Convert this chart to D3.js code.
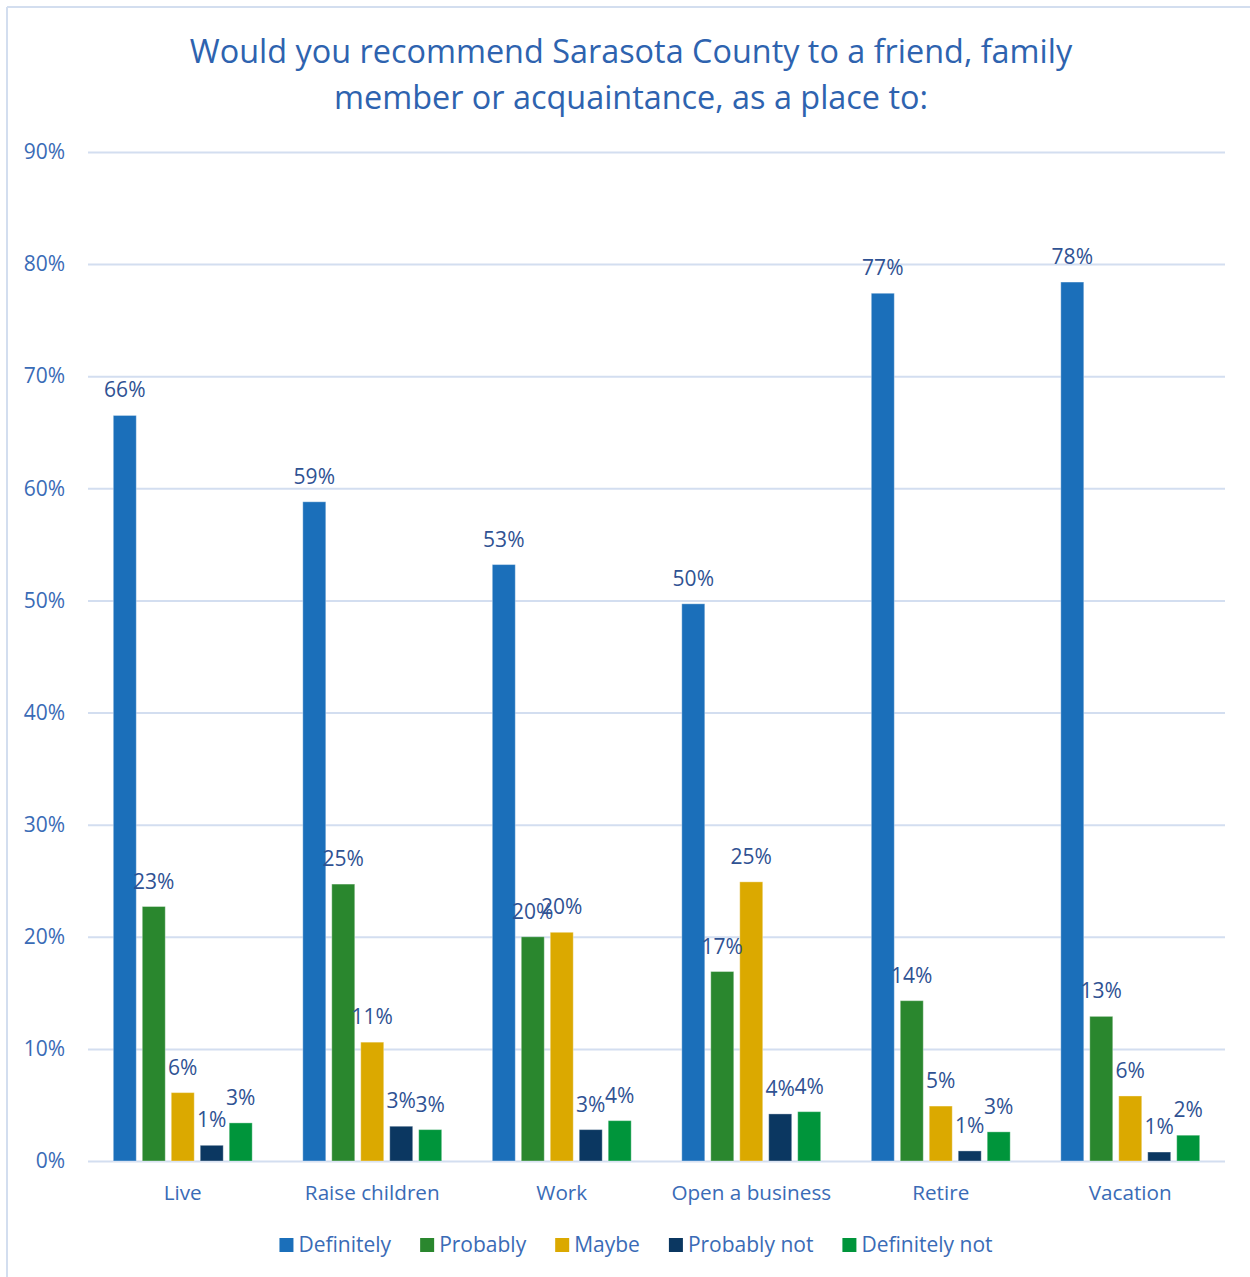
<!DOCTYPE html>
<html>
<head>
<meta charset="utf-8">
<script src="https://cdn.jsdelivr.net/npm/d3@7"></script>
<style>
  html, body { margin: 0; padding: 0; background: #fff; }
  svg { display: block; }
  text { font-family: "Open Sans", "Noto Sans", sans-serif; }
</style>
</head>
<body>
<svg id="chart" width="1250" height="1277"></svg>
<script>
// ---- data ----
const titleLines = ["Would you recommend Sarasota County to a friend, family", "member or acquaintance, as a place to:"];
const categories = ["Live", "Raise children", "Work", "Open a business", "Retire", "Vacation"];
const seriesNames = ["Definitely", "Probably", "Maybe", "Probably not", "Definitely not"];
const definitely   = [66.5, 58.8, 53.2, 49.7, 77.4, 78.4];
const probably     = [22.7, 24.7, 20.0, 16.9, 14.3, 12.9];
const maybe        = [6.1, 10.6, 20.4, 24.9, 4.9, 5.8];
const probablyNot  = [1.4, 3.1, 2.8, 4.2, 0.9, 0.8];
const definitelyNot= [3.4, 2.8, 3.6, 4.4, 2.6, 2.3];
const seriesLabels = [
  ["66%","59%","53%","50%","77%","78%"],
  ["23%","25%","20%","17%","14%","13%"],
  ["6%","11%","20%","25%","5%","6%"],
  ["1%","3%","3%","4%","1%","1%"],
  ["3%","3%","4%","4%","3%","2%"]
];
const yTicks = [0, 10, 20, 30, 40, 50, 60, 70, 80, 90];
const colors = ["#1B6FBA", "#2A872E", "#DBA900", "#0B3761", "#00953B"];

// ---- build ----
const seriesValues = [definitely, probably, maybe, probablyNot, definitelyNot];
const svg = d3.select("#chart");
const plot = { left: 88, right: 1225, top: 152, bottom: 1161 };

// outer border (top and left visible)
svg.append("line").attr("x1", 7).attr("y1", 7).attr("x2", 1250).attr("y2", 7)
  .attr("stroke", "#D3DEEF").attr("stroke-width", 2);
svg.append("line").attr("x1", 7).attr("y1", 7).attr("x2", 7).attr("y2", 1277)
  .attr("stroke", "#D3DEEF").attr("stroke-width", 2);

// title
svg.append("g").selectAll("text").data(titleLines).join("text")
  .attr("x", 631).attr("y", (d, i) => 63 + i * 46)
  .attr("text-anchor", "middle")
  .attr("fill", "#2E63AF")
  .attr("font-size", 32.4)
  .text(d => d);

const y = d3.scaleLinear().domain([0, 90]).range([plot.bottom, plot.top]);
const x0 = d3.scaleBand().domain(categories).range([plot.left, plot.right])
  .paddingInner(0.267).paddingOuter(0.1335);
const x1 = d3.scaleBand().domain(seriesNames).range([0, x0.bandwidth()])
  .paddingInner(0.207).paddingOuter(0);

// gridlines + y axis
const yAxis = d3.axisLeft(y).tickValues(yTicks).tickFormat(d => d + "%")
  .tickSize(-(plot.right - plot.left)).tickPadding(23);
const yg = svg.append("g").attr("transform", `translate(${plot.left},0)`).call(yAxis);
yg.select(".domain").remove();
yg.selectAll(".tick line").attr("stroke", "#D3DEF0").attr("stroke-width", 2);
yg.selectAll(".tick text").attr("fill", "#3A6BB6").attr("font-size", 21)
  .attr("font-family", "'Open Sans', sans-serif");

// bars
const groups = svg.append("g").selectAll("g").data(categories).join("g")
  .attr("transform", d => `translate(${x0(d)},0)`);
groups.selectAll("rect")
  .data((c, ci) => seriesNames.map((s, si) => ({ s, si, v: seriesValues[si][ci] })))
  .join("rect")
  .attr("x", d => x1(d.s))
  .attr("y", d => y(d.v))
  .attr("width", x1.bandwidth())
  .attr("height", d => y(0) - y(d.v))
  .attr("fill", d => colors[d.si])
  .attr("stroke", "#ffffff").attr("stroke-opacity", 0.35).attr("stroke-width", 1);

// data labels
groups.selectAll("text.lbl")
  .data((c, ci) => seriesNames.map((s, si) => ({ s, si, v: seriesValues[si][ci], t: seriesLabels[si][ci] })))
  .join("text").attr("class", "lbl")
  .attr("x", d => x1(d.s) + x1.bandwidth() / 2)
  .attr("y", d => y(d.v) - 18)
  .attr("text-anchor", "middle")
  .attr("fill", "#2F5293")
  .attr("font-size", 21)
  .text(d => d.t);

// x axis labels
const xAxis = d3.axisBottom(x0).tickSize(0).tickPadding(24);
const xg = svg.append("g").attr("transform", `translate(0,${plot.bottom})`).call(xAxis);
xg.select(".domain").remove();
xg.selectAll(".tick text").attr("fill", "#3A6BB6").attr("font-size", 20.7)
  .attr("font-family", "'Open Sans', sans-serif");

// legend
const legend = svg.append("g");
const items = legend.selectAll("g").data(seriesNames).join("g");
items.append("rect").attr("width", 14).attr("height", 14).attr("y", -7)
  .attr("fill", (d, i) => colors[i]);
items.append("text").attr("x", 19).attr("dy", "0.35em")
  .attr("fill", "#3A6BB6").attr("font-size", 21).text(d => d);
let cx = 0;
const gap = 29;
items.each(function () {
  const w = 19 + d3.select(this).select("text").node().getComputedTextLength();
  d3.select(this).attr("transform", `translate(${cx},0)`);
  cx += w + gap;
});
const total = cx - gap;
legend.attr("transform", `translate(${636 - total / 2},1245)`);
</script>
</body>
</html>
